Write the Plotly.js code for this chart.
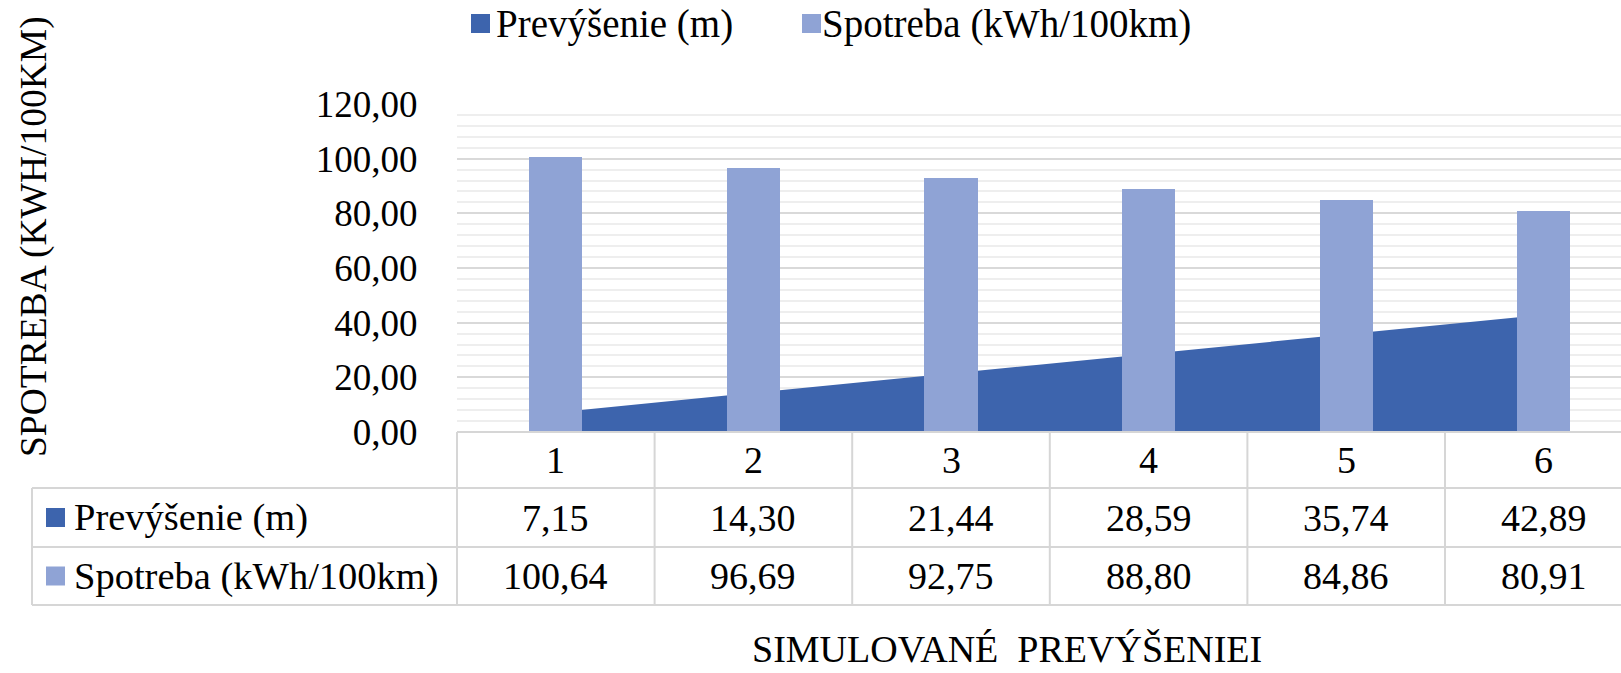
<!DOCTYPE html>
<html>
<head>
<meta charset="utf-8">
<script src="https://cdn.plot.ly/plotly-3.0.1.min.js"></script>
<style>
  html, body { margin: 0; padding: 0; background: #ffffff; overflow: hidden; }
  #chart { width: 1621px; height: 673px; }
</style>
</head>
<body>
<div id="chart"></div>
<script>
// ---- Data ----
const categories = [1, 2, 3, 4, 5, 6];
const categoryLabels = ['1', '2', '3', '4', '5', '6'];
const prevysenie = [7.15, 14.30, 21.44, 28.59, 35.74, 42.89];
const spotreba = [100.64, 96.69, 92.75, 88.80, 84.86, 80.91];
const seriesNames = ['Prevýšenie (m)', 'Spotreba (kWh/100km)'];
const yTickValues = [0, 20, 40, 60, 80, 100, 120];
const yAxisTitle = 'SPOTREBA (KWH/100KM)';
const xAxisTitle = 'SIMULOVANÉ  PREVÝŠENIEI';

// ---- Style / geometry ----
const W = 1621, H = 673;
const M = { l: 457, r: 0, t: 104, b: 241 };
const PW = W - M.l - M.r, PH = H - M.t - M.b;
const catW = 197.6;
const colDark = '#3d64ad', colLight = '#8fa3d5';
const gridCol = '#d9d9d9', minorCol = '#eeeeee', tableCol = '#d6d6d6';
const FONT = 'Liberation Serif, Times New Roman, serif';

const px = v => (v - M.l) / PW;          // pixel x -> paper x
const py = v => (M.t + PH - v) / PH;      // pixel y -> paper y
const fmt = v => v.toFixed(2).replace('.', ',');

const traces = [
  {
    type: 'scatter', mode: 'lines', x: categories, y: prevysenie,
    fill: 'tozeroy', fillcolor: colDark, line: { color: colDark, width: 0 },
    name: seriesNames[0], showlegend: false, hoverinfo: 'skip',
    xaxis: 'x', yaxis: 'y'
  },
  {
    type: 'bar', x: categories, y: spotreba, width: 0.27,
    marker: { color: colLight, line: { width: 0 } },
    name: seriesNames[1], showlegend: false, hoverinfo: 'skip',
    xaxis: 'x', yaxis: 'y2'
  }
];

const shapes = [];
const annotations = [];
const lineStyle = { color: tableCol, width: 2 };

// Table geometry (pixels)
const yAxisLine = M.t + PH;   // 432
const rowTops = [yAxisLine, 488, 547, 605];
const tableLeft = 32;

// horizontal table lines
shapes.push({ type: 'line', xref: 'paper', yref: 'paper', x0: 0, x1: 1, y0: py(rowTops[0]), y1: py(rowTops[0]), line: lineStyle, layer: 'above' });
for (let i = 1; i < rowTops.length; i++) {
  shapes.push({ type: 'line', xref: 'paper', yref: 'paper', x0: px(tableLeft), x1: 1, y0: py(rowTops[i]), y1: py(rowTops[i]), line: lineStyle });
}
// vertical lines
shapes.push({ type: 'line', xref: 'paper', yref: 'paper', x0: px(tableLeft), x1: px(tableLeft), y0: py(rowTops[1]), y1: py(rowTops[3]), line: lineStyle });
shapes.push({ type: 'line', xref: 'paper', yref: 'paper', x0: 0, x1: 0, y0: py(rowTops[0]), y1: py(rowTops[3]), line: lineStyle });
categories.slice(0, -1).forEach(c => {
  shapes.push({ type: 'line', xref: 'x', yref: 'paper', x0: c + 0.5, x1: c + 0.5, y0: py(rowTops[0]), y1: py(rowTops[3]), line: lineStyle });
});

const tFont = { family: FONT, size: 38, color: '#000000' };
const rowCenter = i => py((rowTops[i] + rowTops[i + 1]) / 2);

categories.forEach((c, i) => {
  annotations.push({ xref: 'x', yref: 'paper', x: c, y: rowCenter(0), text: categoryLabels[i], showarrow: false, xanchor: 'center', yanchor: 'middle', font: tFont });
  annotations.push({ xref: 'x', yref: 'paper', x: c, y: rowCenter(1), text: fmt(prevysenie[i]), showarrow: false, xanchor: 'center', yanchor: 'middle', font: tFont });
  annotations.push({ xref: 'x', yref: 'paper', x: c, y: rowCenter(2), text: fmt(spotreba[i]), showarrow: false, xanchor: 'center', yanchor: 'middle', font: tFont });
});

// row labels with colour keys
[[colDark, seriesNames[0], 1], [colLight, seriesNames[1], 2]].forEach(([col, name, r]) => {
  const cy = (rowTops[r] + rowTops[r + 1]) / 2;
  shapes.push({ type: 'rect', xref: 'paper', yref: 'paper', x0: px(46), x1: px(65), y0: py(cy - 9.5), y1: py(cy + 9.5), fillcolor: col, line: { width: 0 } });
  annotations.push({ xref: 'paper', yref: 'paper', x: px(72), y: py(cy), text: name, showarrow: false, xanchor: 'left', yanchor: 'middle', font: { family: FONT, size: 38.5, color: '#000000' } });
});

// legend at top
[[colDark, seriesNames[0], 471, 494], [colLight, seriesNames[1], 802, 820]].forEach(([col, name, x0, tx]) => {
  shapes.push({ type: 'rect', xref: 'paper', yref: 'paper', x0: px(x0), x1: px(x0 + 19), y0: py(14), y1: py(33), fillcolor: col, line: { width: 0 } });
  annotations.push({ xref: 'paper', yref: 'paper', x: px(tx), y: py(24), text: name, showarrow: false, xanchor: 'left', yanchor: 'middle', font: { family: FONT, size: 39, color: '#000000' } });
});

// axis titles
annotations.push({ xref: 'paper', yref: 'paper', x: px(34), y: py(237), text: yAxisTitle, textangle: -90, showarrow: false, xanchor: 'center', yanchor: 'middle', font: { family: FONT, size: 37.5, color: '#000000' } });
annotations.push({ xref: 'paper', yref: 'paper', x: px(1007), y: py(672), text: xAxisTitle, showarrow: false, xanchor: 'center', yanchor: 'bottom', font: { family: FONT, size: 38, color: '#000000' } });

const layout = {
  width: W, height: H,
  margin: M,
  paper_bgcolor: '#ffffff', plot_bgcolor: '#ffffff',
  separators: ', ',
  showlegend: false,
  bargap: 0,
  xaxis: {
    type: 'linear', range: [0.5, 0.5 + PW / catW],
    showgrid: false, zeroline: false, showticklabels: false, ticks: '', fixedrange: true
  },
  yaxis: {
    range: [0, 120], tickmode: 'array', tickvals: yTickValues, tickformat: '.2f',
    showgrid: true, gridcolor: gridCol, gridwidth: 2, zeroline: false,
    ticks: 'outside', ticklen: 31, tickcolor: 'rgba(0,0,0,0)',
    tickfont: { family: FONT, size: 37, color: '#000000' },
    minor: { tickmode: 'linear', tick0: 0, dtick: 4, showgrid: true, gridcolor: minorCol, gridwidth: 2, ticks: '' },
    fixedrange: true
  },
  yaxis2: {
    range: [0, 120], overlaying: 'y', side: 'left', showgrid: false, zeroline: false,
    showticklabels: false, ticks: '', fixedrange: true
  },
  shapes: shapes,
  annotations: annotations
};

Plotly.newPlot('chart', traces, layout, { staticPlot: true, displayModeBar: false });
</script>
</body>
</html>
